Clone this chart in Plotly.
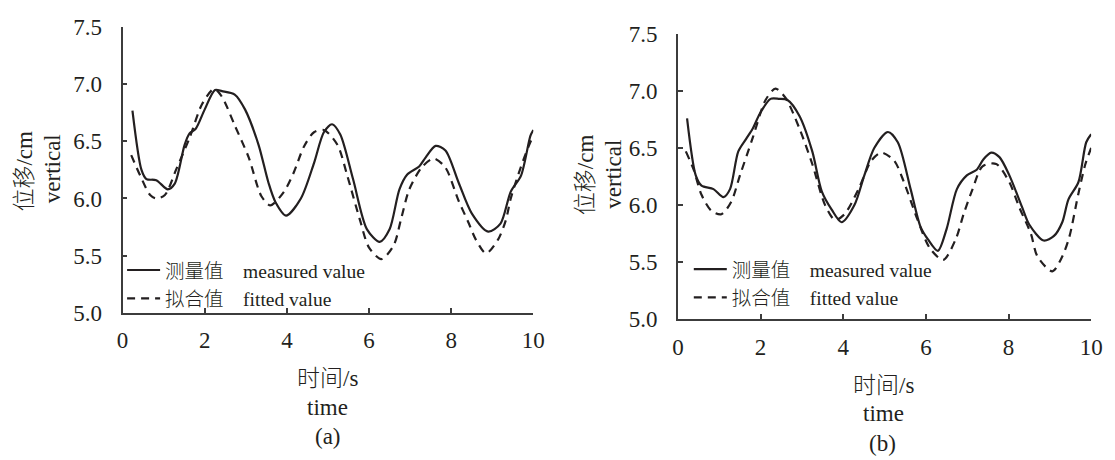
import plotly.graph_objects as go

# ---- data: displacement over time, (a) and (b) ----
t_meas_a = [0.24, 0.46, 0.58, 0.82, 1.10, 1.27, 1.51, 1.63, 1.78, 2.00, 2.25, 2.42, 2.73, 2.98,
            3.31, 3.55, 3.72, 3.98, 4.34, 4.66, 4.90, 5.10, 5.30, 5.61, 5.95, 6.26, 6.50, 6.74,
            6.93, 7.22, 7.38, 7.62, 7.86, 8.18, 8.50, 8.90, 9.20, 9.45, 9.70, 9.93, 10.0]
v_meas_a = [6.77, 6.25, 6.17, 6.16, 6.08, 6.13, 6.47, 6.57, 6.61, 6.78, 6.95, 6.94, 6.91, 6.78,
            6.47, 6.14, 5.97, 5.85, 6.00, 6.31, 6.58, 6.65, 6.56, 6.17, 5.73, 5.62, 5.73, 6.08,
            6.21, 6.28, 6.36, 6.46, 6.42, 6.14, 5.87, 5.71, 5.78, 6.06, 6.20, 6.55, 6.60]

t_fit_a = [0.21, 0.43, 0.67, 0.82, 1.03, 1.30, 1.63, 1.94, 2.23, 2.42, 2.73, 3.07, 3.38, 3.60,
           3.93, 4.17, 4.41, 4.66, 4.90, 5.23, 5.47, 5.78, 6.00, 6.30, 6.60, 6.78, 6.98, 7.30,
           7.58, 7.86, 8.18, 8.42, 8.60, 8.85, 9.14, 9.33, 9.45, 9.70, 9.90, 10.0]
v_fit_a = [6.38, 6.20, 6.03, 6.00, 6.03, 6.25, 6.53, 6.83, 6.96, 6.89, 6.64, 6.36, 6.02, 5.94,
           6.06, 6.23, 6.45, 6.58, 6.60, 6.47, 6.20, 5.81, 5.57, 5.47, 5.59, 5.82, 6.08, 6.28,
           6.35, 6.27, 5.98, 5.79, 5.64, 5.52, 5.64, 5.81, 6.00, 6.28, 6.47, 6.55]

t_meas_b = [0.22, 0.43, 0.57, 0.86, 1.10, 1.26, 1.46, 1.65, 1.81, 1.98, 2.24, 2.45, 2.65, 2.94,
            3.25, 3.48, 3.72, 3.96, 4.27, 4.51, 4.75, 5.08, 5.32, 5.63, 5.87, 6.05, 6.29, 6.50,
            6.75, 6.99, 7.23, 7.39, 7.58, 7.78, 8.02, 8.33, 8.50, 8.85, 9.10, 9.30, 9.45, 9.69,
            9.88, 10.0]
v_meas_b = [6.76, 6.26, 6.17, 6.14, 6.07, 6.14, 6.47, 6.58, 6.67, 6.80, 6.93, 6.93, 6.92, 6.78,
            6.47, 6.12, 5.96, 5.85, 6.00, 6.26, 6.50, 6.64, 6.55, 6.14, 5.81, 5.70, 5.60, 5.79,
            6.14, 6.26, 6.31, 6.40, 6.46, 6.42, 6.26, 5.98, 5.83, 5.69, 5.73, 5.85, 6.05, 6.20,
            6.55, 6.62]

t_fit_b = [0.19, 0.38, 0.57, 0.81, 1.05, 1.29, 1.50, 1.81, 2.12, 2.36, 2.60, 2.94, 3.25, 3.56,
           3.80, 4.03, 4.37, 4.68, 4.92, 5.23, 5.47, 5.80, 6.10, 6.42, 6.72, 6.92, 7.13, 7.37,
           7.70, 8.02, 8.26, 8.54, 8.70, 9.06, 9.30, 9.47, 9.69, 9.86, 10.0]
v_fit_b = [6.47, 6.31, 6.09, 5.95, 5.92, 6.03, 6.26, 6.59, 6.92, 7.02, 6.94, 6.67, 6.36, 6.00,
           5.87, 5.92, 6.14, 6.39, 6.46, 6.39, 6.20, 5.87, 5.62, 5.52, 5.70, 5.93, 6.14, 6.34,
           6.36, 6.20, 5.98, 5.75, 5.55, 5.42, 5.55, 5.72, 6.10, 6.36, 6.50]

x_ticks = [0, 2, 4, 6, 8, 10]
y_ticks = [5.0, 5.5, 6.0, 6.5, 7.0, 7.5]
x_range = [0, 10]
y_range = [5.0, 7.5]

name_meas = "测量值\u00a0\u00a0\u00a0\u00a0measured value"
name_fit = "拟合值\u00a0\u00a0\u00a0\u00a0fitted value"

# ---- styling ----
W, H = 1115, 460
INK = "#231f20"
AXIS = "#3c3c3c"
FONT = "'Liberation Serif', 'Noto Sans CJK SC', serif"
LW = 2.2
DASH = "8px,6px"


def px_x(p):
    return p / W


def px_y(p):
    return 1 - p / H


fig = go.Figure()

fig.add_trace(go.Scatter(x=t_meas_a, y=v_meas_a, mode="lines", name=name_meas,
                         line=dict(color=INK, width=LW, shape="spline", smoothing=0.8),
                         xaxis="x", yaxis="y", legend="legend"))
fig.add_trace(go.Scatter(x=t_fit_a, y=v_fit_a, mode="lines", name=name_fit,
                         line=dict(color=INK, width=LW, dash=DASH, shape="spline", smoothing=0.8),
                         xaxis="x", yaxis="y", legend="legend"))
fig.add_trace(go.Scatter(x=t_meas_b, y=v_meas_b, mode="lines", name=name_meas,
                         line=dict(color=INK, width=LW, shape="spline", smoothing=0.8),
                         xaxis="x2", yaxis="y2", legend="legend2"))
fig.add_trace(go.Scatter(x=t_fit_b, y=v_fit_b, mode="lines", name=name_fit,
                         line=dict(color=INK, width=LW, dash=DASH, shape="spline", smoothing=0.8),
                         xaxis="x2", yaxis="y2", legend="legend2"))

tickfont = dict(family=FONT, size=23, color=INK)


def xaxis_cfg(domain, anchor):
    return dict(domain=domain, anchor=anchor, range=x_range, tickvals=x_ticks,
                ticks="inside", ticklen=5, tickwidth=1.5, tickcolor=AXIS,
                showline=True, linecolor=AXIS, linewidth=1.8, showgrid=False,
                zeroline=False, tickfont=tickfont, ticklabelstandoff=6, fixedrange=True)


def yaxis_cfg(domain, anchor):
    return dict(domain=domain, anchor=anchor, range=y_range, tickvals=y_ticks,
                tickformat=".1f", ticks="inside", ticklen=5, tickwidth=1.5, tickcolor=AXIS,
                showline=True, linecolor=AXIS, linewidth=1.8, showgrid=False,
                zeroline=False, tickfont=tickfont, ticklabelstandoff=14, fixedrange=True)


legend_common = dict(font=dict(family=FONT, size=19.5, color=INK, weight=300),
                     bgcolor="rgba(0,0,0,0)", borderwidth=0, itemwidth=33,
                     xanchor="left", yanchor="middle", tracegroupgap=0)

fig.update_layout(
    width=W, height=H, margin=dict(l=0, r=0, t=0, b=0),
    paper_bgcolor="white", plot_bgcolor="white",
    xaxis=xaxis_cfg([px_x(118.5), px_x(536)], "y"),
    yaxis=yaxis_cfg([px_y(318), px_y(16)], "x"),
    xaxis2=xaxis_cfg([px_x(683), px_x(1103)], "y2"),
    yaxis2=yaxis_cfg([px_y(325), px_y(23)], "x2"),
    legend=dict(x=px_x(118), y=px_y(288), **legend_common),
    legend2=dict(x=px_x(694), y=px_y(287), **legend_common),
    showlegend=True,
)

# axis titles and panel captions
captions = [
    ("位移/cm", 19, 168, -90), ("vertical", 48, 166, -90),
    ("位移/cm", 589, 172, -90), ("vertical", 618, 172, -90),
    ("时间/s", 327, 388, 0), ("time", 327, 418, 0), ("(a)", 327, 449, 0),
    ("时间/s", 892, 395, 0), ("time", 892, 425, 0), ("(b)", 891, 456, 0),
]
for text, cx, cy, ang in captions:
    fig.add_annotation(text=text, x=px_x(cx), y=px_y(cy), xref="paper", yref="paper",
                       xanchor="center", yanchor="middle", textangle=ang, showarrow=False,
                       font=dict(family=FONT, size=23, color=INK, weight=300))

fig.write_html("out.html")
